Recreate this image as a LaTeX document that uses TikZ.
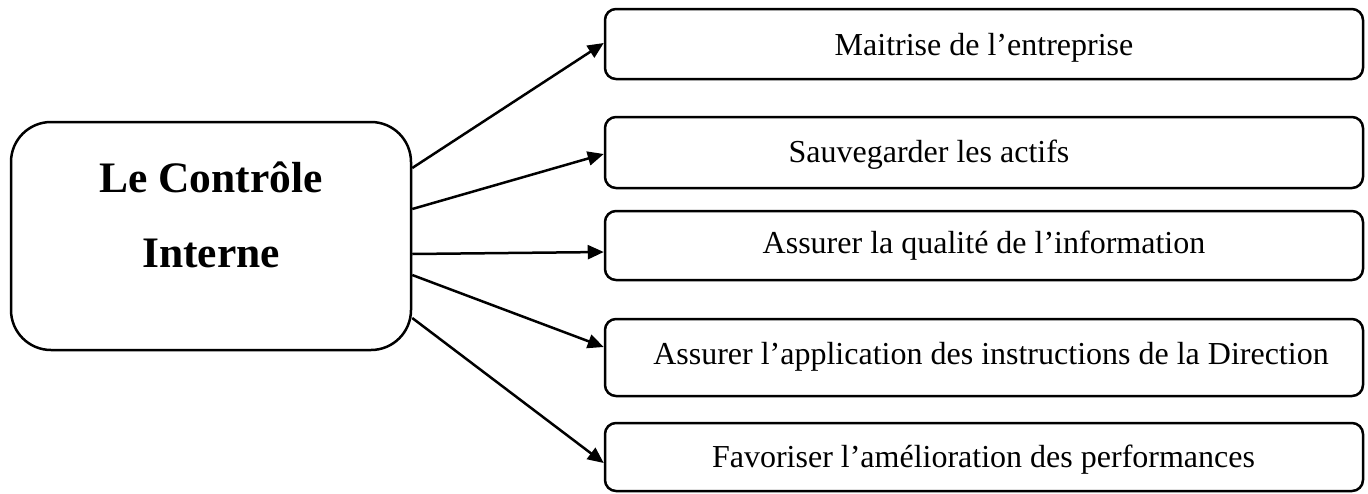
\documentclass[tikz,border=0pt]{standalone}
\usepackage{fontspec}
\setmainfont{Liberation Serif}
\usetikzlibrary{arrows.meta}
\tikzset{
  smallbox/.style={draw, line width=2.5pt, rounded corners=11pt, minimum width=758pt, inner sep=0pt},
  bigbox/.style={draw, line width=2.5pt, rounded corners=40pt, minimum width=400pt, minimum height=228pt, inner sep=0pt},
  lbl/.style={anchor=base, inner sep=0pt, font=\fontsize{32}{38}\selectfont},
  biglbl/.style={anchor=base, inner sep=0pt, font=\fontsize{43.5}{50}\selectfont\bfseries},
  arr/.style={line width=2.5pt, -{Triangle[length=16pt,width=14pt]}}
}
\begin{document}
\begin{tikzpicture}[x=1pt,y=-1pt]
\useasboundingbox (0,0) rectangle (1368,493);
% central box
\node[bigbox] (L) at (211,236) {};
\node[biglbl] (Lt1) at (211,192) {Le Contrôle};
\node[biglbl] (Lt2) at (211,267) {Interne};
% right boxes
\node[smallbox, minimum height=70pt] (b1) at (984,44) {};
\node[smallbox, minimum height=71pt] (b2) at (984,152.5) {};
\node[smallbox, minimum height=69pt] (b3) at (984,245.5) {};
\node[smallbox, minimum height=77pt] (b4) at (984,357.5) {};
\node[smallbox, minimum height=68pt] (b5) at (984,457) {};
% labels
\node[lbl] (t1) at (984,55) {Maitrise de l’entreprise};
\node[lbl] (t2) at (929,162.7) {Sauvegarder les actifs};
\node[lbl] (t3) at (984,253) {Assurer la qualité de l’information};
\node[lbl] (t4) at (991,364) {Assurer l’application des instructions de la Direction};
\node[lbl] (t5) at (983.5,467) {Favoriser l’amélioration des performances};
% arrows
\draw[arr] ([yshift=68pt]L.east) -- ([yshift=1pt]b1.west);
\draw[arr] ([yshift=27pt]L.east) -- ([yshift=-1.5pt]b2.west);
\draw[arr] ([yshift=-18pt]L.east) -- ([yshift=-6.5pt]b3.west);
\draw[arr] ([yshift=-39pt]L.east) -- ([yshift=10.5pt]b4.west);
\draw[arr] ([yshift=-82pt]L.east) -- ([yshift=-6pt]b5.west);
\end{tikzpicture}
\end{document}
